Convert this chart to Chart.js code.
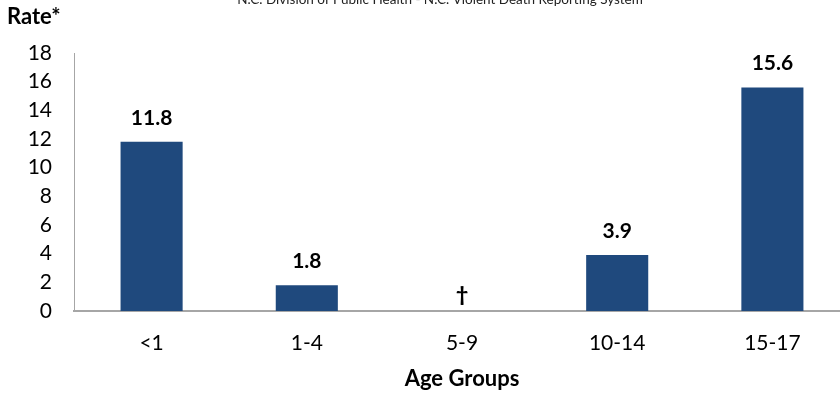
<!DOCTYPE html>
<html>
<head>
<meta charset="utf-8">
<script src="https://cdn.jsdelivr.net/npm/chart.js@4/dist/chart.umd.min.js"></script>
<style>
  html, body { margin: 0; padding: 0; background: #fff; overflow: hidden; }
  #wrap { width: 850px; height: 396px; }
</style>
</head>
<body>
<div id="wrap"><canvas id="c" width="850" height="396"></canvas></div>
<script>
// Child homicide rates by age group
const ageGroups = ['<1', '1-4', '5-9', '10-14', '15-17'];
const rates = [11.8, 1.8, null, 3.9, 15.6];
// Rates too unstable to report are marked with a dagger
const suppressedMark = '\u2020';
const yTicks = [0, 2, 4, 6, 8, 10, 12, 14, 16, 18];

const sourceLine = 'N.C. Division of Public Health - N.C. Violent Death Reporting System';
const yTitle = 'Rate*';
const xTitle = 'Age Groups';

const FONT = 'Lato, "Open Sans", "Liberation Sans", sans-serif';

const labelsPlugin = {
  id: 'labelsPlugin',
  afterDatasetsDraw(chart) {
    const { ctx } = chart;
    const meta = chart.getDatasetMeta(0);
    const yScale = chart.scales.y;
    ctx.save();
    ctx.fillStyle = '#000';
    ctx.textAlign = 'center';
    ctx.textBaseline = 'middle';
    ctx.font = 'bold 21px ' + FONT;
    meta.data.forEach((bar, i) => {
      const v = rates[i];
      if (v === null) {
        ctx.font = '900 21px ' + FONT;
        ctx.fillText(suppressedMark, bar.x, yScale.getPixelForValue(0) - 16);
        ctx.font = 'bold 21px ' + FONT;
      } else {
        ctx.fillText(v.toFixed(1), bar.x, bar.y - 24);
      }
    });
    // Header texts
    ctx.font = '13.5px ' + FONT;
    ctx.fillStyle = '#222';
    ctx.fillText(sourceLine, 440, 0);
    ctx.font = 'bold 22px ' + FONT;
    ctx.fillStyle = '#000';
    ctx.textAlign = 'left';
    ctx.fillText(yTitle, 7, 17);
    ctx.restore();
  }
};

new Chart(document.getElementById('c'), {
  type: 'bar',
  data: {
    labels: ageGroups,
    datasets: [{
      data: rates,
      backgroundColor: '#1f497d',
      barPercentage: 0.4,
      categoryPercentage: 1.0
    }]
  },
  options: {
    responsive: false,
    animation: false,
    layout: { padding: { top: 53, right: 0, left: 0, bottom: 0 } },
    plugins: {
      legend: { display: false },
      tooltip: { enabled: false }
    },
    scales: {
      x: {
        grid: { display: false, drawTicks: false },
        border: { color: '#a6a6a6', width: 2 },
        ticks: { color: '#000', font: { size: 21, family: FONT }, padding: 20 },
        title: {
          display: true, text: xTitle, color: '#000',
          font: { size: 22, weight: 'bold', family: FONT },
          padding: { top: 14 }
        },
        afterFit(scale) { scale.height = 85; }
      },
      y: {
        min: 0, max: 18,
        afterBuildTicks(scale) { scale.ticks = yTicks.map(v => ({ value: v })); },
        grid: { display: false, drawTicks: false },
        border: { color: '#a6a6a6', width: 1 },
        ticks: { color: '#000', font: { size: 21, family: FONT }, padding: 22 },
        afterFit(scale) { scale.width = 74; }
      }
    }
  },
  plugins: [labelsPlugin]
});
</script>
</body>
</html>
